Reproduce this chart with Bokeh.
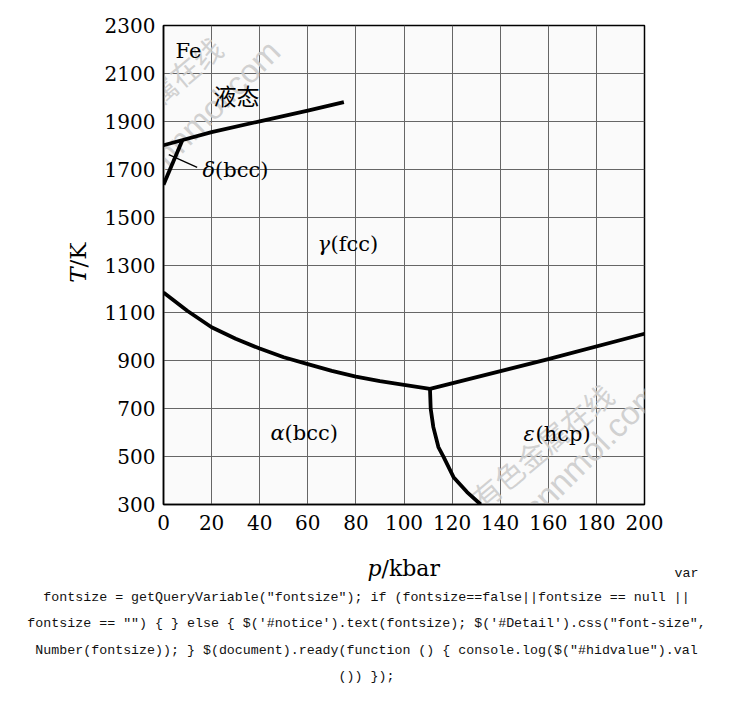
import math
from bokeh.plotting import figure
from bokeh.models import Range1d, FixedTicker, Label
from bokeh.embed import file_html
from bokeh.resources import INLINE

# ---- data ----
x_ticks = [0, 20, 40, 60, 80, 100, 120, 140, 160, 180, 200]
y_ticks = [300, 500, 700, 900, 1100, 1300, 1500, 1700, 1900, 2100, 2300]

# liquid / solid boundary
liq_p = [0, 8, 20, 40, 60, 75]
liq_T = [1800, 1822, 1855, 1900, 1945, 1980]

# delta / gamma boundary
dg_p = [0, 7.8]
dg_T = [1635, 1820]

# alpha / gamma boundary
ag_p = [0, 10, 20, 30, 40, 50, 60, 70, 80, 90, 100, 110.8]
ag_T = [1185, 1108, 1040, 992, 951, 915, 886, 858, 834, 815, 799, 783]

# gamma / epsilon boundary
ge_p = [110.8, 160, 200]
ge_T = [783, 907, 1013]

# alpha / epsilon boundary
ae_p = [110.8, 111.1, 112.2, 114.3, 116.4, 120.6, 126.2, 131.9]
ae_T = [783, 700, 623, 540, 500, 414, 352, 300]

# leader line for delta label
lead_p = [2.2, 14]
lead_T = [1761, 1708]

code_lines = [
    'fontsize = getQueryVariable("fontsize"); if (fontsize==false||fontsize == null ||',
    'fontsize == "") { } else { $(\'#notice\').text(fontsize); $(\'#Detail\').css("font-size",',
    'Number(fontsize)); } $(document).ready(function () { console.log($("#hidvalue").val',
    '()) });',
]

SERIF = "DejaVu Serif"
FL, FT, FW, FH = 163, 25, 481, 479   # frame placement on the page (px)


def dx(px):
    """page pixel -> data p (for placing annotations)"""
    return (px - FL) / FW * 200.0


def dy(py):
    """page pixel -> data T (for placing annotations)"""
    return 2300.0 - (py - FT) / FH * 2000.0


p = figure(frame_width=FW, frame_height=FH,
           min_border_left=FL, min_border_right=714 - FL - FW,
           min_border_top=FT, min_border_bottom=210,
           x_range=Range1d(0, 200), y_range=Range1d(300, 2300),
           output_backend="svg", toolbar_location=None,
           background_fill_color="#fafafa", border_fill_color="white")

p.outline_line_color = "black"
p.outline_line_width = 1.5

for ax in (p.xaxis, p.yaxis):
    ax.major_tick_out = 0
    ax.major_tick_in = 0
    ax.minor_tick_out = 0
    ax.minor_tick_in = 0
    ax.axis_line_color = "black"
    ax.axis_line_width = 1.5
    ax.major_label_text_font = SERIF
    ax.major_label_text_font_size = "20px"
    ax.major_label_text_color = "black"

p.xaxis.ticker = FixedTicker(ticks=x_ticks)
p.yaxis.ticker = FixedTicker(ticks=y_ticks)
p.xaxis.major_label_standoff = 10
p.yaxis.major_label_standoff = 8

p.xgrid.grid_line_color = "#666666"
p.ygrid.grid_line_color = "#666666"
p.xgrid.grid_line_width = 1
p.ygrid.grid_line_width = 1

# watermarks
wm_color = "#cccccc"
for (px_, py_, txt, font, size, ang) in [
    (150, 98, "有色金属在线", "Noto Sans CJK SC", "29px", 40),
    (183, 136, "www.cnnmol.com", "Liberation Sans", "33px", 45),
    (541, 445, "有色金属在线", "Noto Sans CJK SC", "29px", 40),
    (563, 478, "www.cnnmol.com", "Liberation Sans", "33px", 45),
]:
    p.add_layout(Label(x=dx(px_), y=dy(py_), text=txt,
                       text_font=font, text_font_size=size, text_color=wm_color,
                       text_alpha=0.9, angle=math.radians(ang), text_align="center",
                       text_baseline="middle", level="underlay"))

# phase boundaries
for px_, ty_ in [(liq_p, liq_T), (dg_p, dg_T), (ag_p, ag_T), (ge_p, ge_T), (ae_p, ae_T)]:
    p.line(px_, ty_, line_color="black", line_width=3.8, line_join="round")
p.line(lead_p, lead_T, line_color="black", line_width=1.3)


# phase labels
def phase(x, y, greek, rest, off):
    if greek:
        p.add_layout(Label(x=x, y=y, text=greek, text_font=SERIF, text_font_style="italic",
                           text_font_size="21px", text_color="black",
                           text_align="left", text_baseline="middle"))
    p.add_layout(Label(x=x, y=y, x_offset=off, text=rest, text_font=SERIF,
                       text_font_size="21px", text_color="black",
                       text_align="left", text_baseline="middle"))


phase(dx(175), dy(50), None, "Fe", 0)
phase(dx(202), dy(169), "δ", "(bcc)", 12.5)
phase(dx(317), dy(243), "γ", "(fcc)", 13)
phase(dx(270), dy(432), "α", "(bcc)", 14)
phase(dx(523), dy(433), "ε", "(hcp)", 12)
p.add_layout(Label(x=dx(236), y=dy(94), text="液态", text_font="Noto Sans CJK SC",
                   text_font_size="23px", text_color="black",
                   text_align="center", text_baseline="middle"))

# axis titles (mixed italic / roman) - in side panels so they are not clipped
p.add_layout(Label(x=dx(77), y=dy(267), text="T", text_font=SERIF, text_font_style="italic",
                   text_font_size="23px", angle=math.pi / 2, text_align="right",
                   text_baseline="middle", text_color="black"), "left")
p.add_layout(Label(x=dx(77), y=dy(267), text="/K", text_font=SERIF, text_font_size="23px",
                   angle=math.pi / 2, text_align="left", text_baseline="middle",
                   text_color="black"), "left")
p.add_layout(Label(x=dx(381), y=dy(568), text="p", text_font=SERIF, text_font_style="italic",
                   text_font_size="22px", text_align="right", text_baseline="alphabetic",
                   text_color="black"), "below")
p.add_layout(Label(x=dx(381), y=dy(568), text="/kbar", text_font=SERIF, text_font_size="22px",
                   text_align="left", text_baseline="alphabetic", text_color="black"), "below")

# page text below the image
p.add_layout(Label(x=dx(698), y=dy(573), text="var", text_font="Liberation Mono",
                   text_font_size="13.3px", text_align="right", text_baseline="middle",
                   text_color="#111111"), "below")
for line, yc in zip(code_lines, [597, 623, 650, 676]):
    p.add_layout(Label(x=dx(366), y=dy(yc), text=line, text_font="Liberation Mono",
                       text_font_size="13.3px", text_align="center", text_baseline="middle",
                       text_color="#111111"), "below")

open("out.html", "w").write(file_html(p, INLINE))
